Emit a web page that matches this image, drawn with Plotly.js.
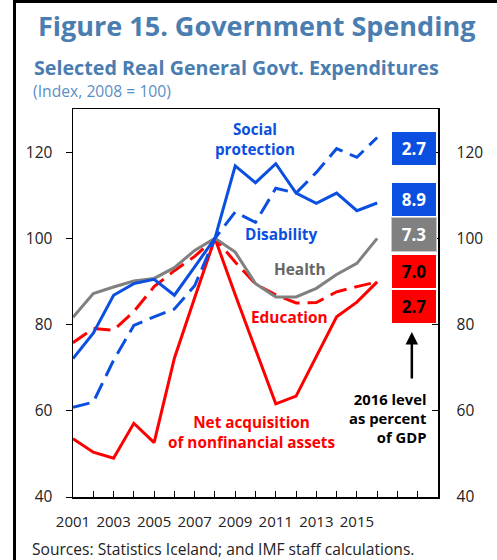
<!DOCTYPE html>
<html>
<head>
<meta charset="utf-8">
<script src="https://cdn.plot.ly/plotly-3.0.1.min.js"></script>
<style>
  html, body { margin: 0; padding: 0; background: #fff; }
  #wrap { position: relative; width: 497px; height: 560px; overflow: hidden; }
  #chart { position: absolute; left: 0; top: 0; width: 497px; height: 560px; }
  .frameV { position: absolute; left: 13px; top: 0; width: 3px; height: 560px; background: #000; z-index: 5; }
  .frameH { position: absolute; left: 13px; top: 0; width: 484px; height: 3px; background: #000; z-index: 5; }
</style>
</head>
<body>
<div id="wrap">
  <div id="chart"></div>
  <div class="frameV"></div>
  <div class="frameH"></div>
</div>
<script>
// ---- Data (Index, 2008 = 100) ----
const years = [2001, 2002, 2003, 2004, 2005, 2006, 2007, 2008, 2009, 2010, 2011, 2012, 2013, 2014, 2015, 2016];
const socialProtection = [72.1, 78.0, 86.8, 89.5, 90.5, 86.8, 93.4, 100, 116.8, 112.9, 117.3, 110.5, 108.1, 110.5, 106.4, 108.2];
const disability = [60.8, 62.0, 71.7, 79.8, 81.8, 83.6, 89.0, 100, 106.1, 103.7, 111.6, 110.5, 115.3, 120.8, 118.8, 123.4];
const health = [81.7, 87.2, 88.7, 90.1, 90.7, 93.2, 97.2, 100, 96.8, 89.5, 86.4, 86.4, 88.4, 91.6, 94.2, 100];
const education = [75.8, 79.1, 78.7, 83.0, 88.8, 92.5, 95.8, 100, 94.5, 89.4, 86.9, 85.0, 85.1, 87.6, 88.8, 89.9];
const netAcquisition = [53.5, 50.4, 49.0, 57.1, 52.6, 72.2, 86.2, 100, 86.9, 74.0, 61.6, 63.4, 72.5, 81.8, 85.2, 89.9];

// 2016 level as percent of GDP (boxes, top to bottom)
const gdpLabels = ["2.7", "8.9", "7.3", "7.0", "2.7"];   // Disability, Social protection, Health, Education, Net acquisition

// Axis ticks
const xTickVals = [2001, 2002, 2003, 2004, 2005, 2006, 2007, 2008, 2009, 2010, 2011, 2012, 2013, 2014, 2015, 2016, 2017, 2018];
const xTickText = ["2001", "", "2003", "", "2005", "", "2007", "", "2009", "", "2011", "", "2013", "", "2015", "", "", ""];
const yTickVals = [40, 60, 80, 100, 120];

// ---- Styles ----
const BLUE = "#0a4fe0";
const GREY = "#808080";
const RED = "#ff0000";
const FONT = "Open Sans, Noto Sans, DejaVu Sans, sans-serif";
const DASH = "17px,8px";

const traces = [
  { x: years, y: netAcquisition, mode: "lines", line: { color: RED, width: 3 }, hoverinfo: "skip" },
  { x: years, y: education, mode: "lines", line: { color: RED, width: 3, dash: DASH }, hoverinfo: "skip" },
  { x: years, y: health, mode: "lines", line: { color: GREY, width: 3 }, hoverinfo: "skip" },
  { x: years, y: disability, mode: "lines", line: { color: BLUE, width: 3, dash: DASH }, hoverinfo: "skip" },
  { x: years, y: socialProtection, mode: "lines", line: { color: BLUE, width: 3 }, hoverinfo: "skip" },
  // invisible trace to activate right axis
  { x: [years[0]], y: [100], yaxis: "y2", mode: "markers", marker: { opacity: 0 }, hoverinfo: "skip" }
];

// box layout (positions only)
const boxX = 2017.82;
const boxY = [120.8, 109.1, 101.0, 92.4, 84.3];
const boxBg = [BLUE, BLUE, GREY, RED, RED];
const boxFg = ["#ffffff", "#ffffff", "#ffffff", "#000000", "#000000"];

const annotations = [];
gdpLabels.forEach((t, i) => {
  annotations.push({
    x: boxX, y: boxY[i], xref: "x", yref: "y", text: "<b>" + t + "</b>", showarrow: false,
    bgcolor: boxBg[i], width: 44, height: 33, borderpad: 0,
    bordercolor: i === 2 ? "#c8c8c8" : boxBg[i], borderwidth: i === 2 ? 1 : 0,
    font: { family: FONT, size: 17, color: boxFg[i] }, xanchor: "center", yanchor: "middle"
  });
});

const lab = (x, y, text, color, size, extra) => Object.assign({
  x: x, y: y, xref: "x", yref: "y", text: text, showarrow: false,
  font: { family: FONT, size: size, color: color }, xanchor: "center", yanchor: "middle"
}, extra || {});

annotations.push(lab(2009.97, 123.1, "<b>Social<br>protection</b>", BLUE, 15.2));
annotations.push(lab(2011.26, 100.8, "<b>Disability</b>", BLUE, 15.4));
annotations.push(lab(2012.2, 92.8, "<b>Health</b>", "#666666", 15.4));
annotations.push(lab(2011.68, 81.6, "<b>Education</b>", RED, 15.4));
annotations.push(lab(2009.78, 55.0, "<b>Net acquisition<br>of nonfinancial assets</b>", RED, 15.3));
annotations.push(lab(2018.5, 58.4, "<b>2016 level<br>as percent<br>of GDP</b>", "#000000", 14.8, { xanchor: "right", align: "right" }));
// arrow
annotations.push({
  x: 2017.71, y: 78.3, xref: "x", yref: "y", text: "", showarrow: true,
  ax: 0, ay: 48, arrowhead: 2, arrowsize: 1, arrowwidth: 2.5, arrowcolor: "#000000"
});

// titles and notes (paper coords)
const px2paperX = (px) => (px - 73.3) / 364.4;
const px2paperY = (py) => (496.7 - py) / 387.7;
annotations.push({
  xref: "paper", yref: "paper", x: px2paperX(256), y: px2paperY(26), xanchor: "center", yanchor: "middle",
  text: "<b>Figure 15. Government Spending</b>", showarrow: false,
  font: { family: FONT, size: 27, color: "#4a7db0" }
});
annotations.push({
  xref: "paper", yref: "paper", x: px2paperX(32), y: px2paperY(68), xanchor: "left", yanchor: "middle",
  text: "<b>Selected Real General Govt. Expenditures</b>", showarrow: false,
  font: { family: FONT, size: 19.7, color: "#4a7db0" }
});
annotations.push({
  xref: "paper", yref: "paper", x: px2paperX(31), y: px2paperY(91), xanchor: "left", yanchor: "middle",
  text: "(Index, 2008 = 100)", showarrow: false,
  font: { family: FONT, size: 15.7, color: "#5b8ec4" }
});
annotations.push({
  xref: "paper", yref: "paper", x: px2paperX(30), y: px2paperY(549), xanchor: "left", yanchor: "middle",
  text: "Sources: Statistics Iceland; and IMF staff calculations.", showarrow: false,
  font: { family: FONT, size: 15.6, color: "#222222" }
});

const layout = {
  width: 497, height: 560,
  margin: { l: 73, r: 59, t: 109, b: 63, pad: 0 },
  paper_bgcolor: "#ffffff", plot_bgcolor: "#ffffff",
  showlegend: false,
  font: { family: FONT, size: 15, color: "#222222" },
  xaxis: {
    range: [2001, 2019], tickmode: "array", tickvals: xTickVals, ticktext: xTickText,
    ticks: "inside", ticklen: 6, tickwidth: 1, tickcolor: "#000",
    showline: true, linecolor: "#000", linewidth: 1.5, mirror: true,
    showgrid: false, zeroline: false, ticklabelstandoff: 10,
    tickfont: { family: FONT, size: 15, color: "#222" }
  },
  yaxis: {
    range: [40, 130], tickmode: "array", tickvals: yTickVals,
    ticks: "outside", ticklen: 6, tickwidth: 1, tickcolor: "#000",
    showline: true, linecolor: "#000", linewidth: 1.5,
    showgrid: false, zeroline: false, ticklabelstandoff: 10,
    tickfont: { family: FONT, size: 15.5, color: "#222" }
  },
  yaxis2: {
    range: [40, 130], tickmode: "array", tickvals: yTickVals, overlaying: "y", side: "right",
    ticks: "inside", ticklen: 6, tickwidth: 1, tickcolor: "#000",
    showline: true, linecolor: "#000", linewidth: 1.5,
    showgrid: false, zeroline: false, ticklabelstandoff: 14,
    tickfont: { family: FONT, size: 15.5, color: "#222" }
  },
  annotations: annotations
};

Plotly.newPlot("chart", traces, layout, { displayModeBar: false, staticPlot: true });
</script>
</body>
</html>
